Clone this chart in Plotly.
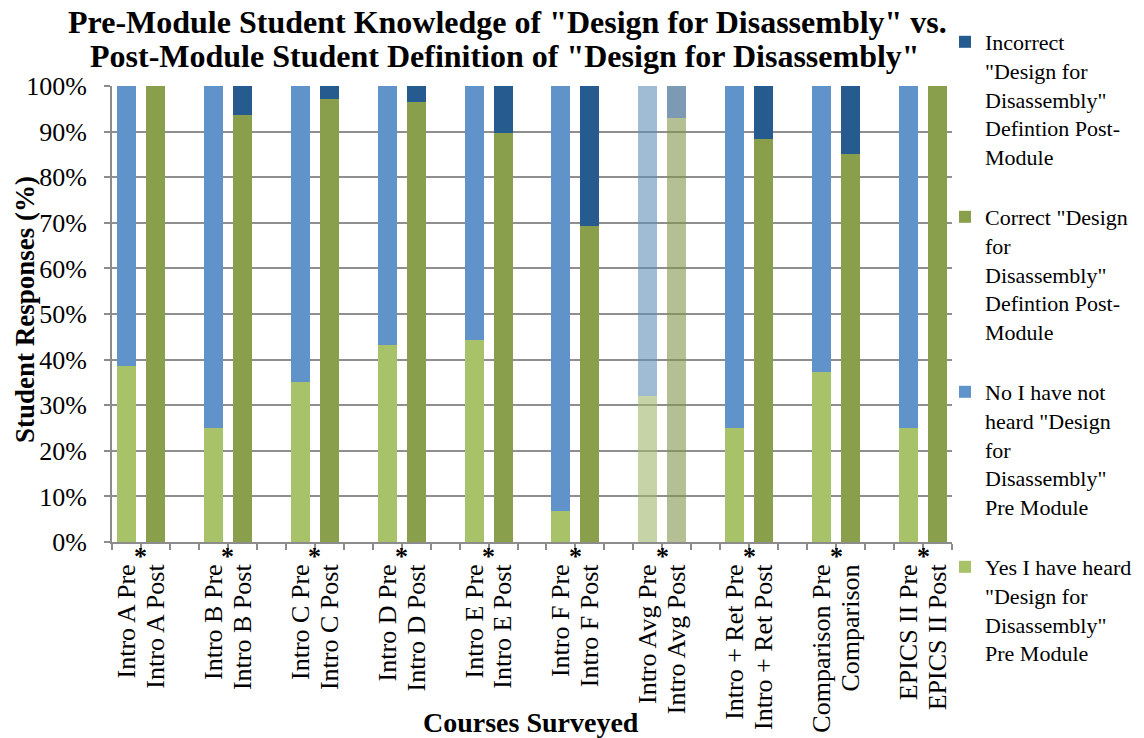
import plotly.graph_objects as go

# Course groups, each surveyed before (Pre) and after (Post) the module
groups = ["Intro A", "Intro B", "Intro C", "Intro D", "Intro E", "Intro F",
          "Intro Avg", "Intro + Ret", "Comparison", "EPICS II"]
pre_labels = ["Intro A Pre", "Intro B Pre", "Intro C Pre", "Intro D Pre", "Intro E Pre",
              "Intro F Pre", "Intro Avg Pre", "Intro + Ret Pre", "Comparison Pre", "EPICS II Pre"]
post_labels = ["Intro A Post", "Intro B Post", "Intro C Post", "Intro D Post", "Intro E Post",
               "Intro F Post", "Intro Avg Post", "Intro + Ret Post", "Comparison", "EPICS II Post"]

# Pre-module: heard / not heard of "Design for Disassembly" (%)
yes_heard = [38.5, 25.0, 35.0, 43.1, 44.4, 6.9, 32.1, 25.0, 37.3, 25.0]
not_heard = [61.5, 75.0, 65.0, 56.9, 55.6, 93.1, 67.9, 75.0, 62.7, 75.0]
# Post-module: correct / incorrect definition (%)
correct_def = [100.0, 93.75, 97.2, 96.6, 89.6, 69.2, 92.9, 88.4, 85.0, 100.0]
incorrect_def = [0.0, 6.25, 2.8, 3.4, 10.4, 30.8, 7.1, 11.6, 15.0, 0.0]

y_ticks = [0, 10, 20, 30, 40, 50, 60, 70, 80, 90, 100]
y_tick_labels = ["0%", "10%", "20%", "30%", "40%", "50%", "60%", "70%", "80%", "90%", "100%"]

FONT = "Liberation Serif"
AVG = "Intro Avg"

# Category axis: Pre, Post, then an empty spacer slot between groups
categories = []
for i, (pre, post) in enumerate(zip(pre_labels, post_labels)):
    categories += [pre, post]
    if i < len(groups) - 1:
        categories.append(" " * (i + 1))


def column(values, labels):
    lookup = dict(zip(labels, values))
    return [lookup.get(c) for c in categories]


def colours(solid, faded, labels):
    lookup = {lab: (faded if g == AVG else solid) for lab, g in zip(labels, groups)}
    return [lookup.get(c, solid) for c in categories]


# Stacked bottom-to-top; legend lists them top-to-bottom in reverse
series = [
    ("Yes I have heard<br>\"Design for<br>Disassembly\"<br>Pre Module",
     yes_heard, pre_labels, "#A8C26A", "rgba(160,182,107,0.6)"),
    ("No I have not<br>heard \"Design<br>for<br>Disassembly\"<br>Pre Module",
     not_heard, pre_labels, "#5F93C9", "rgba(97,142,183,0.6)"),
    ("Correct \"Design<br>for<br>Disassembly\"<br>Defintion Post-<br>Module",
     correct_def, post_labels, "#8A9F4B", "rgba(130,150,77,0.6)"),
    ("Incorrect<br>\"Design for<br>Disassembly\"<br>Defintion Post-<br>Module",
     incorrect_def, post_labels, "#255B8F", "rgba(38,87,130,0.6)"),
]

fig = go.Figure()
for k, (name, vals, labels, solid, faded) in enumerate(series):
    fig.add_trace(go.Bar(
        name=name,
        x=categories,
        y=column(vals, labels),
        marker=dict(color=colours(solid, faded, labels), line=dict(width=0)),
        legendgroup=f"g{k}",
        legendrank=len(series) - k,
    ))

# Asterisks between each Pre/Post pair
annotations = []
for i in range(len(groups)):
    annotations.append(dict(
        x=3 * i + 0.5, xref="x", y=0, yref="paper", yanchor="top", xanchor="center",
        text="<b>*</b>", showarrow=False, yshift=2,
        font=dict(family=FONT, size=26, color="black"),
    ))

# Chart title lines and axis titles
annotations += [
    dict(text="<b>Pre-Module Student Knowledge of \"Design for Disassembly\" vs.</b>",
         x=(507 - 112) / 840, y=1 + (86 - 22) / 456, xref="paper", yref="paper",
         xanchor="center", yanchor="middle", showarrow=False,
         font=dict(family=FONT, size=32, color="black")),
    dict(text="<b>Post-Module Student Definition of \"Design for Disassembly\"</b>",
         x=(505 - 112) / 840, y=1 + (86 - 56) / 456, xref="paper", yref="paper",
         xanchor="center", yanchor="middle", showarrow=False,
         font=dict(family=FONT, size=32, color="black")),
    dict(text="<b>Courses Surveyed</b>",
         x=(531 - 112) / 840, y=-(722 - 542) / 456, xref="paper", yref="paper",
         xanchor="center", yanchor="middle", showarrow=False,
         font=dict(family=FONT, size=28, color="black")),
    dict(text="<b>Student Responses (%)</b>", textangle=-90,
         x=(25 - 112) / 840, y=(542 - 310) / 456, xref="paper", yref="paper",
         xanchor="center", yanchor="middle", showarrow=False,
         font=dict(family=FONT, size=27, color="black")),
]

fig.update_layout(
    width=1144, height=738,
    margin=dict(l=112, r=192, t=86, b=196, autoexpand=False),
    paper_bgcolor="white", plot_bgcolor="white",
    barmode="stack", bargap=0.345,
    font=dict(family=FONT, color="black"),
    showlegend=True,
    legend=dict(
        traceorder="grouped", x=(945 - 112) / 840, xanchor="left",
        y=1 + (86 - 21) / 456, yanchor="top", valign="top",
        font=dict(family=FONT, size=22, color="black"), tracegroupgap=29,
        bgcolor="rgba(0,0,0,0)", maxheight=730,
    ),
    annotations=annotations,
)

fig.update_xaxes(
    type="category", categoryorder="array", categoryarray=categories,
    tickmode="linear", tick0=0, dtick=1,
    tickson="boundaries", ticks="outside", ticklen=6, tickcolor="#8c8c8c", tickwidth=1.5,
    showline=True, linecolor="#8c8c8c", linewidth=2,
    showgrid=False, tickangle=-90, ticklabelstandoff=10, automargin=False,
    tickfont=dict(family=FONT, size=26, color="black"),
)
fig.update_yaxes(
    range=[0, 100], tickmode="array", tickvals=y_ticks, ticktext=y_tick_labels,
    ticks="outside", ticklen=6, tickcolor="#8c8c8c", tickwidth=1.5,
    showline=True, linecolor="#8c8c8c", linewidth=2,
    showgrid=True, gridcolor="#8f8f8f", gridwidth=1.5,
    zeroline=False, ticklabelstandoff=12, automargin=False,
    tickfont=dict(family=FONT, size=26, color="black"),
)

fig.write_html("out.html")
